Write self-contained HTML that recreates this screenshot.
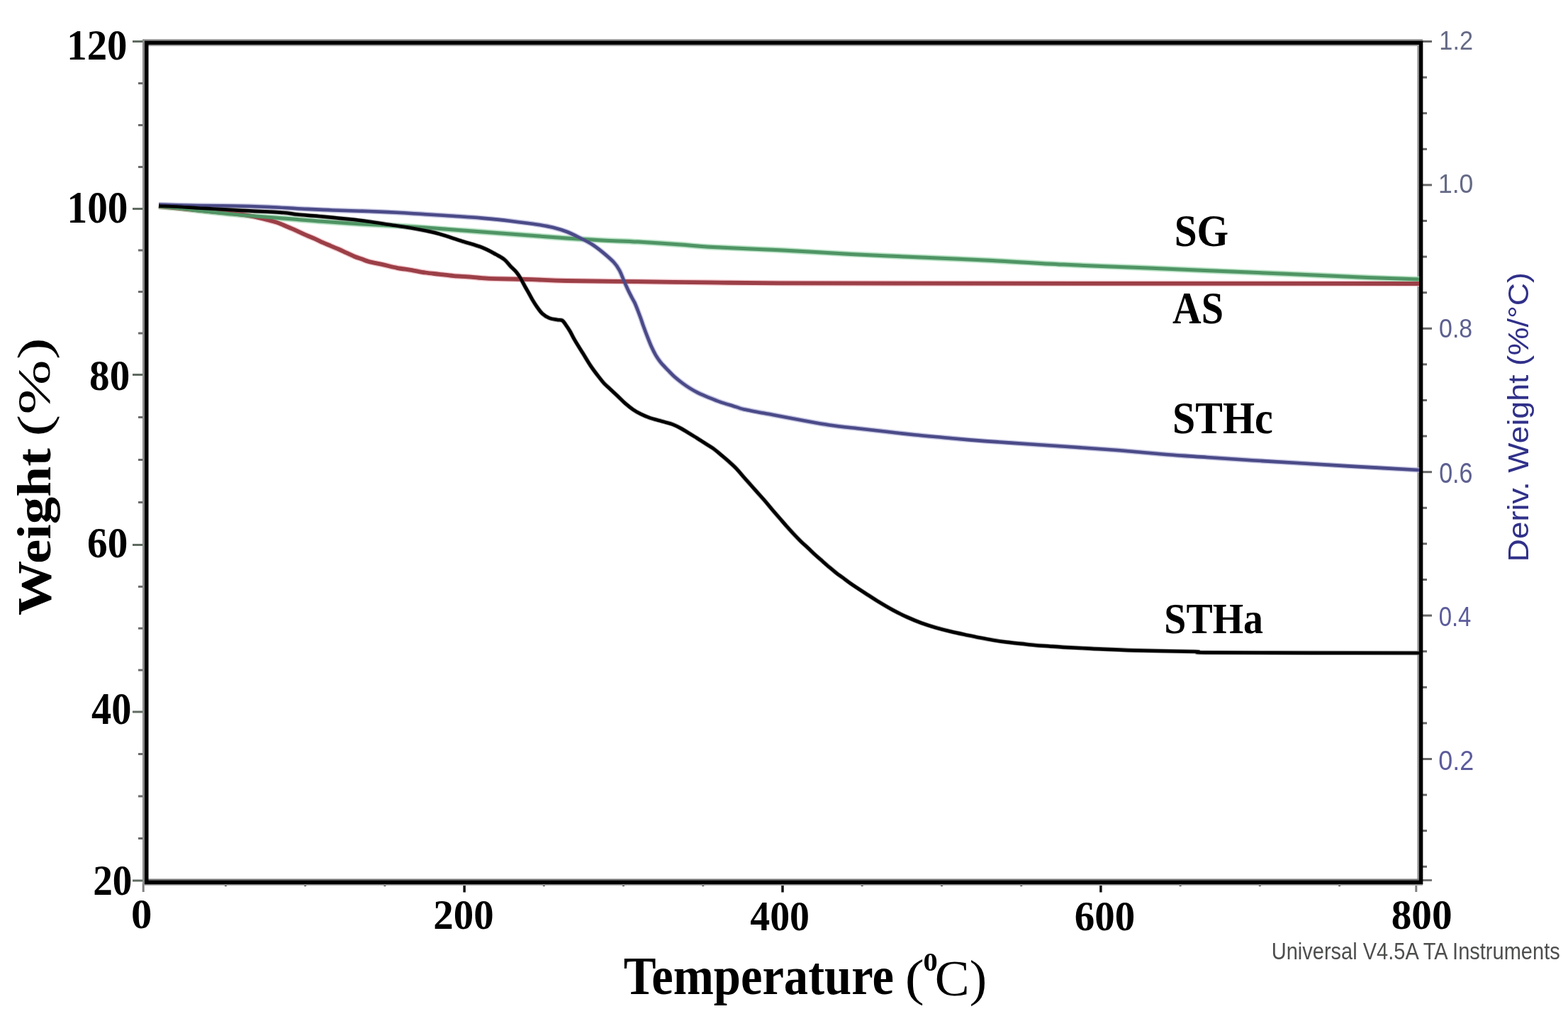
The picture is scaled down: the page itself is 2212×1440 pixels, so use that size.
<!DOCTYPE html><html><head><meta charset="utf-8"><title>TGA</title><style>html,body{margin:0;padding:0;background:#fff;overflow:hidden}svg{display:block}</style></head><body>
<svg width="2212" height="1440" viewBox="0 0 2212 1440">
<rect width="2212" height="1440" fill="#fff"/>
<g><line x1="187" y1="1242.0" x2="204" y2="1242.0" stroke="#5f6b60" stroke-width="3"/><line x1="195" y1="1182.5" x2="204" y2="1182.5" stroke="#6b6b6b" stroke-width="3"/><line x1="195" y1="1123.0" x2="204" y2="1123.0" stroke="#6b6b6b" stroke-width="3"/><line x1="195" y1="1063.5" x2="204" y2="1063.5" stroke="#6b6b6b" stroke-width="3"/><line x1="187" y1="1004.0" x2="204" y2="1004.0" stroke="#5f6b60" stroke-width="3"/><line x1="195" y1="945.1" x2="204" y2="945.1" stroke="#6b6b6b" stroke-width="3"/><line x1="195" y1="886.2" x2="204" y2="886.2" stroke="#6b6b6b" stroke-width="3"/><line x1="195" y1="827.4" x2="204" y2="827.4" stroke="#6b6b6b" stroke-width="3"/><line x1="187" y1="768.5" x2="204" y2="768.5" stroke="#5f6b60" stroke-width="3"/><line x1="195" y1="708.5" x2="204" y2="708.5" stroke="#6b6b6b" stroke-width="3"/><line x1="195" y1="648.5" x2="204" y2="648.5" stroke="#6b6b6b" stroke-width="3"/><line x1="195" y1="588.5" x2="204" y2="588.5" stroke="#6b6b6b" stroke-width="3"/><line x1="187" y1="528.5" x2="204" y2="528.5" stroke="#5f6b60" stroke-width="3"/><line x1="195" y1="470.0" x2="204" y2="470.0" stroke="#6b6b6b" stroke-width="3"/><line x1="195" y1="411.5" x2="204" y2="411.5" stroke="#6b6b6b" stroke-width="3"/><line x1="195" y1="353.0" x2="204" y2="353.0" stroke="#6b6b6b" stroke-width="3"/><line x1="187" y1="294.5" x2="204" y2="294.5" stroke="#5f6b60" stroke-width="3"/><line x1="195" y1="235.5" x2="204" y2="235.5" stroke="#6b6b6b" stroke-width="3"/><line x1="195" y1="176.5" x2="204" y2="176.5" stroke="#6b6b6b" stroke-width="3"/><line x1="195" y1="117.5" x2="204" y2="117.5" stroke="#6b6b6b" stroke-width="3"/><line x1="187" y1="58.5" x2="204" y2="58.5" stroke="#5f6b60" stroke-width="3"/><line x1="2007" y1="58.5" x2="2020" y2="58.5" stroke="#666" stroke-width="3"/><line x1="2007" y1="109.1" x2="2013" y2="109.1" stroke="#666" stroke-width="3"/><line x1="2007" y1="159.7" x2="2013" y2="159.7" stroke="#666" stroke-width="3"/><line x1="2007" y1="210.3" x2="2013" y2="210.3" stroke="#666" stroke-width="3"/><line x1="2007" y1="260.9" x2="2020" y2="260.9" stroke="#666" stroke-width="3"/><line x1="2007" y1="311.5" x2="2013" y2="311.5" stroke="#666" stroke-width="3"/><line x1="2007" y1="362.1" x2="2013" y2="362.1" stroke="#666" stroke-width="3"/><line x1="2007" y1="412.7" x2="2013" y2="412.7" stroke="#666" stroke-width="3"/><line x1="2007" y1="463.3" x2="2020" y2="463.3" stroke="#666" stroke-width="3"/><line x1="2007" y1="513.9" x2="2013" y2="513.9" stroke="#666" stroke-width="3"/><line x1="2007" y1="564.5" x2="2013" y2="564.5" stroke="#666" stroke-width="3"/><line x1="2007" y1="615.1" x2="2013" y2="615.1" stroke="#666" stroke-width="3"/><line x1="2007" y1="665.7" x2="2020" y2="665.7" stroke="#666" stroke-width="3"/><line x1="2007" y1="716.3" x2="2013" y2="716.3" stroke="#666" stroke-width="3"/><line x1="2007" y1="766.9" x2="2013" y2="766.9" stroke="#666" stroke-width="3"/><line x1="2007" y1="817.5" x2="2013" y2="817.5" stroke="#666" stroke-width="3"/><line x1="2007" y1="868.1" x2="2020" y2="868.1" stroke="#666" stroke-width="3"/><line x1="2007" y1="918.7" x2="2013" y2="918.7" stroke="#666" stroke-width="3"/><line x1="2007" y1="969.3" x2="2013" y2="969.3" stroke="#666" stroke-width="3"/><line x1="2007" y1="1019.9" x2="2013" y2="1019.9" stroke="#666" stroke-width="3"/><line x1="2007" y1="1070.5" x2="2020" y2="1070.5" stroke="#666" stroke-width="3"/><line x1="2007" y1="1121.1" x2="2013" y2="1121.1" stroke="#666" stroke-width="3"/><line x1="2007" y1="1171.7" x2="2013" y2="1171.7" stroke="#666" stroke-width="3"/><line x1="2007" y1="1222.3" x2="2013" y2="1222.3" stroke="#666" stroke-width="3"/><line x1="2007" y1="1241.5" x2="2020" y2="1241.5" stroke="#777" stroke-width="3"/><line x1="202.2" y1="1246" x2="202.2" y2="1258" stroke="#808080" stroke-width="3"/><line x1="318.4" y1="1246" x2="318.4" y2="1250" stroke="#333" stroke-width="3"/><line x1="430.6" y1="1246" x2="430.6" y2="1250" stroke="#333" stroke-width="3"/><line x1="542.9" y1="1246" x2="542.9" y2="1250" stroke="#333" stroke-width="3"/><line x1="655.1" y1="1246" x2="655.1" y2="1258.5" stroke="#111" stroke-width="3.5"/><line x1="767.3" y1="1246" x2="767.3" y2="1250" stroke="#333" stroke-width="3"/><line x1="879.5" y1="1246" x2="879.5" y2="1250" stroke="#333" stroke-width="3"/><line x1="991.8" y1="1246" x2="991.8" y2="1250" stroke="#333" stroke-width="3"/><line x1="1104.0" y1="1246" x2="1104.0" y2="1258.5" stroke="#111" stroke-width="3.5"/><line x1="1216.2" y1="1246" x2="1216.2" y2="1250" stroke="#333" stroke-width="3"/><line x1="1328.5" y1="1246" x2="1328.5" y2="1250" stroke="#333" stroke-width="3"/><line x1="1440.7" y1="1246" x2="1440.7" y2="1250" stroke="#333" stroke-width="3"/><line x1="1552.9" y1="1246" x2="1552.9" y2="1258.5" stroke="#111" stroke-width="3.5"/><line x1="1665.1" y1="1246" x2="1665.1" y2="1250" stroke="#333" stroke-width="3"/><line x1="1777.3" y1="1246" x2="1777.3" y2="1250" stroke="#333" stroke-width="3"/><line x1="1889.6" y1="1246" x2="1889.6" y2="1250" stroke="#333" stroke-width="3"/><line x1="1997.8" y1="1246" x2="1997.8" y2="1258" stroke="#808080" stroke-width="3"/></g>
<rect x="201" y="55.3" width="3" height="1192" fill="#8a8a8a"/>
<rect x="1999.3" y="57.6" width="2.7" height="1189" fill="#9a9a9a"/>
<rect x="204" y="55.3" width="1803" height="2.5" fill="#8f8f8f"/>
<rect x="204" y="1239.5" width="1798" height="2.6" fill="#777"/>
<rect x="204" y="1247" width="1803" height="2" fill="#b0b0b0"/>
<rect x="204" y="63" width="1798" height="2" fill="#a0a0a0"/>
<path d="M206.75,60.3 H2004.6 V1244.6 H206.75 Z" fill="none" stroke="#000" stroke-width="5.5"/>
<g fill="none" stroke-linejoin="round" stroke-linecap="butt">
<path d="M224.0,291.0 C230.0,291.6 247.3,293.2 260.0,294.5 C272.7,295.8 286.7,297.2 300.0,298.5 C313.3,299.8 330.0,301.3 340.0,302.5 C350.0,303.7 354.2,304.6 360.0,305.8 C365.8,307.0 370.0,308.2 375.0,309.5 C380.0,310.8 385.8,312.2 390.0,313.5 C394.2,314.8 396.5,316.1 400.0,317.5 C403.5,318.9 407.3,320.6 411.0,322.2 C414.7,323.8 418.3,325.5 422.0,327.2 C425.7,328.9 429.3,330.6 433.0,332.2 C436.7,333.8 440.6,335.2 444.4,336.9 C448.2,338.6 451.9,340.5 455.6,342.2 C459.3,343.9 463.0,345.3 466.7,346.9 C470.4,348.4 474.1,349.9 477.8,351.5 C481.5,353.1 485.2,355.0 488.9,356.7 C492.6,358.4 496.3,360.2 500.0,361.7 C503.7,363.2 507.7,364.4 511.0,365.6 C514.3,366.8 515.2,367.6 520.0,368.9 C524.8,370.2 533.3,371.7 540.0,373.2 C546.7,374.7 553.3,376.5 560.0,377.8 C566.7,379.1 573.3,379.8 580.0,380.9 C586.7,382.0 593.3,383.5 600.0,384.5 C606.7,385.5 613.3,386.0 620.0,386.8 C626.7,387.6 633.3,388.5 640.0,389.1 C646.7,389.7 653.3,389.9 660.0,390.4 C666.7,390.9 673.3,391.8 680.0,392.2 C686.7,392.6 688.3,392.8 700.0,393.1 C711.7,393.4 733.3,393.7 750.0,394.2 C766.7,394.7 775.0,395.5 800.0,396.0 C825.0,396.5 866.7,396.8 900.0,397.2 C933.3,397.6 966.7,398.0 1000.0,398.4 C1033.3,398.8 1050.0,399.1 1100.0,399.3 C1150.0,399.5 1149.7,399.6 1300.0,399.7 C1450.3,399.8 1885.0,399.9 2002.0,400.0" stroke="#f2c4ca" stroke-width="8.6" opacity="0.8"/>
<path d="M224.0,291.0 C230.0,291.6 250.7,293.5 260.0,294.5 C269.3,295.5 270.0,295.9 280.0,297.0 C290.0,298.1 306.7,299.9 320.0,301.2 C333.3,302.5 346.7,303.9 360.0,305.0 C373.3,306.1 390.0,307.2 400.0,308.0 C410.0,308.8 410.8,308.8 420.0,309.5 C429.2,310.2 439.8,311.2 455.0,312.3 C470.2,313.4 493.5,315.0 511.0,316.0 C528.5,317.0 545.2,317.6 560.0,318.5 C574.8,319.4 586.7,320.2 600.0,321.1 C613.3,322.0 626.7,323.1 640.0,324.1 C653.3,325.1 666.7,326.0 680.0,327.0 C693.3,328.0 706.7,329.0 720.0,330.0 C733.3,331.0 746.7,332.0 760.0,333.0 C773.3,334.0 785.0,335.0 800.0,336.0 C815.0,337.0 833.3,338.0 850.0,338.9 C866.7,339.8 881.7,340.1 900.0,341.1 C918.3,342.1 943.3,343.8 960.0,345.0 C976.7,346.2 976.7,347.0 1000.0,348.3 C1023.3,349.6 1066.7,351.1 1100.0,352.8 C1133.3,354.5 1166.7,356.7 1200.0,358.4 C1233.3,360.1 1266.7,361.5 1300.0,363.0 C1333.3,364.5 1366.7,365.8 1400.0,367.5 C1433.3,369.2 1463.3,371.4 1500.0,373.1 C1536.7,374.9 1586.7,376.6 1620.0,378.0 C1653.3,379.4 1666.7,380.1 1700.0,381.5 C1733.3,382.9 1791.7,385.3 1820.0,386.5 C1848.3,387.7 1851.7,388.0 1870.0,388.8 C1888.3,389.6 1908.0,390.6 1930.0,391.5 C1952.0,392.4 1990.0,393.6 2002.0,394.0" stroke="#a9dcb8" stroke-width="8.4" opacity="0.8"/>
<path d="M224.0,288.5 C233.3,288.8 262.3,289.7 280.0,290.0 C297.7,290.3 313.3,290.2 330.0,290.5 C346.7,290.8 365.0,291.4 380.0,292.0 C395.0,292.6 405.0,293.4 420.0,294.2 C435.0,294.9 453.3,295.9 470.0,296.5 C486.7,297.1 505.0,297.4 520.0,298.0 C535.0,298.6 546.7,299.1 560.0,299.8 C573.3,300.5 586.7,301.5 600.0,302.3 C613.3,303.1 626.7,303.8 640.0,304.7 C653.3,305.6 666.7,306.4 680.0,307.6 C693.3,308.8 706.7,310.1 720.0,311.7 C733.3,313.3 750.0,315.5 760.0,317.0 C770.0,318.5 773.3,319.1 780.0,320.8 C786.7,322.5 793.3,324.4 800.0,327.0 C806.7,329.6 814.2,333.6 820.0,336.5 C825.8,339.4 830.0,341.3 835.0,344.5 C840.0,347.7 844.8,351.4 850.0,355.6 C855.2,359.9 862.0,365.7 866.0,370.0 C870.0,374.3 871.7,377.2 874.0,381.5 C876.3,385.8 878.0,390.9 880.0,395.5 C882.0,400.1 884.1,405.0 886.0,409.0 C887.9,413.0 889.7,416.4 891.3,419.5 C892.9,422.6 894.1,424.2 895.5,427.3 C896.9,430.4 898.3,434.2 899.8,438.0 C901.3,441.8 903.0,446.4 904.3,450.0 C905.6,453.6 906.1,455.7 907.6,459.8 C909.1,463.9 911.3,469.9 913.2,474.7 C915.1,479.5 916.8,484.1 918.8,488.5 C920.8,492.9 922.7,496.9 925.0,500.8 C927.3,504.7 929.8,508.3 932.6,511.8 C935.4,515.3 938.9,518.6 942.0,521.8 C945.1,525.0 947.7,528.0 951.1,531.0 C954.5,534.0 958.5,537.2 962.2,540.0 C965.9,542.8 969.6,545.3 973.3,547.6 C977.0,549.9 980.7,552.0 984.4,553.9 C988.1,555.8 991.9,557.3 995.6,558.9 C999.3,560.5 1003.0,561.8 1006.7,563.3 C1010.4,564.8 1014.1,566.3 1017.8,567.6 C1021.5,568.9 1025.3,569.9 1029.0,571.0 C1032.7,572.1 1036.5,573.3 1040.0,574.4 C1043.5,575.5 1041.7,575.6 1050.0,577.4 C1058.3,579.2 1076.7,582.5 1090.0,585.0 C1103.3,587.5 1116.7,590.1 1130.0,592.5 C1143.3,594.9 1156.7,597.5 1170.0,599.5 C1183.3,601.5 1196.7,602.8 1210.0,604.3 C1223.3,605.8 1236.7,607.3 1250.0,608.8 C1263.3,610.3 1276.7,611.9 1290.0,613.3 C1303.3,614.7 1316.7,615.8 1330.0,617.0 C1343.3,618.2 1356.7,619.5 1370.0,620.6 C1383.3,621.7 1396.7,622.6 1410.0,623.5 C1423.3,624.4 1433.3,625.1 1450.0,626.2 C1466.7,627.3 1488.3,628.8 1510.0,630.3 C1531.7,631.8 1557.5,633.5 1580.0,635.3 C1602.5,637.1 1624.5,639.4 1645.0,641.0 C1665.5,642.6 1682.8,643.6 1703.0,645.0 C1723.2,646.4 1744.8,647.9 1766.0,649.2 C1787.2,650.5 1806.7,651.6 1830.0,653.0 C1853.3,654.4 1877.3,655.9 1906.0,657.6 C1934.7,659.3 1986.0,662.1 2002.0,663.0" stroke="#b9b9dc" stroke-width="7.4" opacity="0.8"/>
<path d="M224.0,290.5 C228.3,290.7 240.7,291.0 250.0,291.5 C259.3,292.0 271.7,293.0 280.0,293.5 C288.3,294.0 290.0,293.9 300.0,294.5 C310.0,295.1 330.0,296.2 340.0,296.8 C350.0,297.4 350.0,297.3 360.0,297.8 C370.0,298.3 390.0,299.2 400.0,300.0 C410.0,300.8 411.7,301.7 420.0,302.5 C428.3,303.3 438.3,303.9 450.0,305.0 C461.7,306.1 478.3,307.6 490.0,308.9 C501.7,310.1 510.0,311.1 520.0,312.5 C530.0,313.9 540.0,315.5 550.0,317.0 C560.0,318.5 571.7,320.1 580.0,321.5 C588.3,322.9 593.3,323.9 600.0,325.3 C606.7,326.7 611.7,327.6 620.0,330.0 C628.3,332.4 640.0,336.4 650.0,339.6 C660.0,342.8 671.7,345.8 680.0,349.0 C688.3,352.2 694.8,356.2 700.0,359.0 C705.2,361.8 708.2,363.3 711.5,366.0 C714.8,368.7 717.1,372.2 720.0,375.3 C722.9,378.4 726.5,381.3 729.0,384.4 C731.5,387.4 733.1,390.3 735.0,393.6 C736.9,396.9 738.8,400.7 740.6,404.0 C742.4,407.3 744.3,410.4 746.0,413.5 C747.7,416.6 749.1,419.4 751.0,422.6 C752.9,425.8 755.1,429.3 757.4,432.6 C759.7,435.9 762.1,439.6 765.0,442.3 C767.9,445.0 771.5,447.2 775.0,448.6 C778.5,450.1 783.0,450.4 786.0,451.0 C789.0,451.6 791.0,450.8 793.0,451.9 C795.0,453.0 796.2,455.3 798.0,457.8 C799.8,460.3 801.8,463.3 804.0,467.0 C806.2,470.7 808.0,474.9 811.0,480.0 C814.0,485.1 818.3,491.9 822.0,497.8 C825.7,503.7 829.3,510.1 833.0,515.6 C836.7,521.1 841.2,527.0 844.4,531.1 C847.6,535.2 849.4,537.7 852.0,540.5 C854.6,543.3 856.8,545.0 860.0,548.0 C863.2,551.0 867.3,554.8 871.0,558.3 C874.7,561.8 878.3,565.7 882.0,568.9 C885.7,572.1 889.3,575.0 893.0,577.6 C896.7,580.2 900.6,582.3 904.4,584.2 C908.2,586.1 911.9,587.6 915.6,588.9 C919.3,590.2 923.0,591.2 926.7,592.2 C930.4,593.2 934.1,594.1 937.8,595.2 C941.5,596.3 945.1,597.1 949.0,598.6 C952.9,600.1 957.2,602.3 961.0,604.4 C964.8,606.5 968.3,608.8 972.0,611.0 C975.7,613.2 979.3,615.5 983.0,617.8 C986.7,620.1 990.2,622.4 994.0,624.8 C997.8,627.2 1001.8,629.5 1005.6,632.2 C1009.4,634.9 1013.0,638.0 1016.7,641.1 C1020.4,644.2 1024.1,647.3 1027.8,650.6 C1031.5,653.9 1035.3,657.2 1039.0,661.1 C1042.7,665.0 1046.5,669.8 1050.0,673.8 C1053.5,677.8 1056.7,681.2 1060.0,685.0 C1063.3,688.8 1066.7,692.5 1070.0,696.3 C1073.3,700.0 1076.7,703.6 1080.0,707.5 C1083.3,711.4 1086.7,715.6 1090.0,719.5 C1093.3,723.4 1096.7,727.2 1100.0,731.0 C1103.3,734.8 1106.7,738.8 1110.0,742.5 C1113.3,746.2 1116.7,750.0 1120.0,753.5 C1123.3,757.0 1126.7,760.5 1130.0,763.8 C1133.3,767.0 1136.7,769.9 1140.0,773.0 C1143.3,776.1 1146.7,779.5 1150.0,782.5 C1153.3,785.5 1156.7,788.4 1160.0,791.3 C1163.3,794.2 1166.7,797.2 1170.0,800.0 C1173.3,802.8 1176.7,805.7 1180.0,808.3 C1183.3,810.9 1186.7,813.0 1190.0,815.5 C1193.3,818.0 1195.0,819.5 1200.0,823.0 C1205.0,826.5 1213.3,831.9 1220.0,836.2 C1226.7,840.5 1233.3,844.9 1240.0,849.0 C1246.7,853.1 1253.3,857.0 1260.0,860.6 C1266.7,864.2 1273.3,867.5 1280.0,870.5 C1286.7,873.5 1293.3,876.3 1300.0,878.8 C1306.7,881.2 1313.3,883.3 1320.0,885.2 C1326.7,887.1 1333.3,888.8 1340.0,890.4 C1346.7,892.0 1353.3,893.4 1360.0,894.8 C1366.7,896.2 1373.3,897.7 1380.0,899.0 C1386.7,900.3 1393.3,901.6 1400.0,902.7 C1406.7,903.8 1413.3,904.8 1420.0,905.6 C1426.7,906.5 1433.3,907.1 1440.0,907.8 C1446.7,908.5 1453.3,909.4 1460.0,910.0 C1466.7,910.6 1473.3,910.9 1480.0,911.4 C1486.7,911.9 1490.0,912.2 1500.0,912.8 C1510.0,913.4 1523.3,914.0 1540.0,914.8 C1556.7,915.5 1575.7,916.6 1600.0,917.3 C1624.3,918.0 1669.3,918.5 1686.0,919.0 C1702.7,919.5 1672.7,920.0 1700.0,920.3 C1727.3,920.6 1799.7,920.7 1850.0,920.8 C1900.3,920.9 1976.7,921.0 2002.0,921.0" stroke="#8c8c8c" stroke-width="6.4" opacity="0.8"/>
<path d="M224.0,291.0 C230.0,291.6 247.3,293.2 260.0,294.5 C272.7,295.8 286.7,297.2 300.0,298.5 C313.3,299.8 330.0,301.3 340.0,302.5 C350.0,303.7 354.2,304.6 360.0,305.8 C365.8,307.0 370.0,308.2 375.0,309.5 C380.0,310.8 385.8,312.2 390.0,313.5 C394.2,314.8 396.5,316.1 400.0,317.5 C403.5,318.9 407.3,320.6 411.0,322.2 C414.7,323.8 418.3,325.5 422.0,327.2 C425.7,328.9 429.3,330.6 433.0,332.2 C436.7,333.8 440.6,335.2 444.4,336.9 C448.2,338.6 451.9,340.5 455.6,342.2 C459.3,343.9 463.0,345.3 466.7,346.9 C470.4,348.4 474.1,349.9 477.8,351.5 C481.5,353.1 485.2,355.0 488.9,356.7 C492.6,358.4 496.3,360.2 500.0,361.7 C503.7,363.2 507.7,364.4 511.0,365.6 C514.3,366.8 515.2,367.6 520.0,368.9 C524.8,370.2 533.3,371.7 540.0,373.2 C546.7,374.7 553.3,376.5 560.0,377.8 C566.7,379.1 573.3,379.8 580.0,380.9 C586.7,382.0 593.3,383.5 600.0,384.5 C606.7,385.5 613.3,386.0 620.0,386.8 C626.7,387.6 633.3,388.5 640.0,389.1 C646.7,389.7 653.3,389.9 660.0,390.4 C666.7,390.9 673.3,391.8 680.0,392.2 C686.7,392.6 688.3,392.8 700.0,393.1 C711.7,393.4 733.3,393.7 750.0,394.2 C766.7,394.7 775.0,395.5 800.0,396.0 C825.0,396.5 866.7,396.8 900.0,397.2 C933.3,397.6 966.7,398.0 1000.0,398.4 C1033.3,398.8 1050.0,399.1 1100.0,399.3 C1150.0,399.5 1149.7,399.6 1300.0,399.7 C1450.3,399.8 1885.0,399.9 2002.0,400.0" stroke="#9c3f47" stroke-width="5.8"/>
<path d="M224.0,291.0 C230.0,291.6 250.7,293.5 260.0,294.5 C269.3,295.5 270.0,295.9 280.0,297.0 C290.0,298.1 306.7,299.9 320.0,301.2 C333.3,302.5 346.7,303.9 360.0,305.0 C373.3,306.1 390.0,307.2 400.0,308.0 C410.0,308.8 410.8,308.8 420.0,309.5 C429.2,310.2 439.8,311.2 455.0,312.3 C470.2,313.4 493.5,315.0 511.0,316.0 C528.5,317.0 545.2,317.6 560.0,318.5 C574.8,319.4 586.7,320.2 600.0,321.1 C613.3,322.0 626.7,323.1 640.0,324.1 C653.3,325.1 666.7,326.0 680.0,327.0 C693.3,328.0 706.7,329.0 720.0,330.0 C733.3,331.0 746.7,332.0 760.0,333.0 C773.3,334.0 785.0,335.0 800.0,336.0 C815.0,337.0 833.3,338.0 850.0,338.9 C866.7,339.8 881.7,340.1 900.0,341.1 C918.3,342.1 943.3,343.8 960.0,345.0 C976.7,346.2 976.7,347.0 1000.0,348.3 C1023.3,349.6 1066.7,351.1 1100.0,352.8 C1133.3,354.5 1166.7,356.7 1200.0,358.4 C1233.3,360.1 1266.7,361.5 1300.0,363.0 C1333.3,364.5 1366.7,365.8 1400.0,367.5 C1433.3,369.2 1463.3,371.4 1500.0,373.1 C1536.7,374.9 1586.7,376.6 1620.0,378.0 C1653.3,379.4 1666.7,380.1 1700.0,381.5 C1733.3,382.9 1791.7,385.3 1820.0,386.5 C1848.3,387.7 1851.7,388.0 1870.0,388.8 C1888.3,389.6 1908.0,390.6 1930.0,391.5 C1952.0,392.4 1990.0,393.6 2002.0,394.0" stroke="#4f9464" stroke-width="5.0"/>
<path d="M224.0,288.5 C233.3,288.8 262.3,289.7 280.0,290.0 C297.7,290.3 313.3,290.2 330.0,290.5 C346.7,290.8 365.0,291.4 380.0,292.0 C395.0,292.6 405.0,293.4 420.0,294.2 C435.0,294.9 453.3,295.9 470.0,296.5 C486.7,297.1 505.0,297.4 520.0,298.0 C535.0,298.6 546.7,299.1 560.0,299.8 C573.3,300.5 586.7,301.5 600.0,302.3 C613.3,303.1 626.7,303.8 640.0,304.7 C653.3,305.6 666.7,306.4 680.0,307.6 C693.3,308.8 706.7,310.1 720.0,311.7 C733.3,313.3 750.0,315.5 760.0,317.0 C770.0,318.5 773.3,319.1 780.0,320.8 C786.7,322.5 793.3,324.4 800.0,327.0 C806.7,329.6 814.2,333.6 820.0,336.5 C825.8,339.4 830.0,341.3 835.0,344.5 C840.0,347.7 844.8,351.4 850.0,355.6 C855.2,359.9 862.0,365.7 866.0,370.0 C870.0,374.3 871.7,377.2 874.0,381.5 C876.3,385.8 878.0,390.9 880.0,395.5 C882.0,400.1 884.1,405.0 886.0,409.0 C887.9,413.0 889.7,416.4 891.3,419.5 C892.9,422.6 894.1,424.2 895.5,427.3 C896.9,430.4 898.3,434.2 899.8,438.0 C901.3,441.8 903.0,446.4 904.3,450.0 C905.6,453.6 906.1,455.7 907.6,459.8 C909.1,463.9 911.3,469.9 913.2,474.7 C915.1,479.5 916.8,484.1 918.8,488.5 C920.8,492.9 922.7,496.9 925.0,500.8 C927.3,504.7 929.8,508.3 932.6,511.8 C935.4,515.3 938.9,518.6 942.0,521.8 C945.1,525.0 947.7,528.0 951.1,531.0 C954.5,534.0 958.5,537.2 962.2,540.0 C965.9,542.8 969.6,545.3 973.3,547.6 C977.0,549.9 980.7,552.0 984.4,553.9 C988.1,555.8 991.9,557.3 995.6,558.9 C999.3,560.5 1003.0,561.8 1006.7,563.3 C1010.4,564.8 1014.1,566.3 1017.8,567.6 C1021.5,568.9 1025.3,569.9 1029.0,571.0 C1032.7,572.1 1036.5,573.3 1040.0,574.4 C1043.5,575.5 1041.7,575.6 1050.0,577.4 C1058.3,579.2 1076.7,582.5 1090.0,585.0 C1103.3,587.5 1116.7,590.1 1130.0,592.5 C1143.3,594.9 1156.7,597.5 1170.0,599.5 C1183.3,601.5 1196.7,602.8 1210.0,604.3 C1223.3,605.8 1236.7,607.3 1250.0,608.8 C1263.3,610.3 1276.7,611.9 1290.0,613.3 C1303.3,614.7 1316.7,615.8 1330.0,617.0 C1343.3,618.2 1356.7,619.5 1370.0,620.6 C1383.3,621.7 1396.7,622.6 1410.0,623.5 C1423.3,624.4 1433.3,625.1 1450.0,626.2 C1466.7,627.3 1488.3,628.8 1510.0,630.3 C1531.7,631.8 1557.5,633.5 1580.0,635.3 C1602.5,637.1 1624.5,639.4 1645.0,641.0 C1665.5,642.6 1682.8,643.6 1703.0,645.0 C1723.2,646.4 1744.8,647.9 1766.0,649.2 C1787.2,650.5 1806.7,651.6 1830.0,653.0 C1853.3,654.4 1877.3,655.9 1906.0,657.6 C1934.7,659.3 1986.0,662.1 2002.0,663.0" stroke="#4b4a88" stroke-width="4.6"/>
<path d="M224.0,290.5 C228.3,290.7 240.7,291.0 250.0,291.5 C259.3,292.0 271.7,293.0 280.0,293.5 C288.3,294.0 290.0,293.9 300.0,294.5 C310.0,295.1 330.0,296.2 340.0,296.8 C350.0,297.4 350.0,297.3 360.0,297.8 C370.0,298.3 390.0,299.2 400.0,300.0 C410.0,300.8 411.7,301.7 420.0,302.5 C428.3,303.3 438.3,303.9 450.0,305.0 C461.7,306.1 478.3,307.6 490.0,308.9 C501.7,310.1 510.0,311.1 520.0,312.5 C530.0,313.9 540.0,315.5 550.0,317.0 C560.0,318.5 571.7,320.1 580.0,321.5 C588.3,322.9 593.3,323.9 600.0,325.3 C606.7,326.7 611.7,327.6 620.0,330.0 C628.3,332.4 640.0,336.4 650.0,339.6 C660.0,342.8 671.7,345.8 680.0,349.0 C688.3,352.2 694.8,356.2 700.0,359.0 C705.2,361.8 708.2,363.3 711.5,366.0 C714.8,368.7 717.1,372.2 720.0,375.3 C722.9,378.4 726.5,381.3 729.0,384.4 C731.5,387.4 733.1,390.3 735.0,393.6 C736.9,396.9 738.8,400.7 740.6,404.0 C742.4,407.3 744.3,410.4 746.0,413.5 C747.7,416.6 749.1,419.4 751.0,422.6 C752.9,425.8 755.1,429.3 757.4,432.6 C759.7,435.9 762.1,439.6 765.0,442.3 C767.9,445.0 771.5,447.2 775.0,448.6 C778.5,450.1 783.0,450.4 786.0,451.0 C789.0,451.6 791.0,450.8 793.0,451.9 C795.0,453.0 796.2,455.3 798.0,457.8 C799.8,460.3 801.8,463.3 804.0,467.0 C806.2,470.7 808.0,474.9 811.0,480.0 C814.0,485.1 818.3,491.9 822.0,497.8 C825.7,503.7 829.3,510.1 833.0,515.6 C836.7,521.1 841.2,527.0 844.4,531.1 C847.6,535.2 849.4,537.7 852.0,540.5 C854.6,543.3 856.8,545.0 860.0,548.0 C863.2,551.0 867.3,554.8 871.0,558.3 C874.7,561.8 878.3,565.7 882.0,568.9 C885.7,572.1 889.3,575.0 893.0,577.6 C896.7,580.2 900.6,582.3 904.4,584.2 C908.2,586.1 911.9,587.6 915.6,588.9 C919.3,590.2 923.0,591.2 926.7,592.2 C930.4,593.2 934.1,594.1 937.8,595.2 C941.5,596.3 945.1,597.1 949.0,598.6 C952.9,600.1 957.2,602.3 961.0,604.4 C964.8,606.5 968.3,608.8 972.0,611.0 C975.7,613.2 979.3,615.5 983.0,617.8 C986.7,620.1 990.2,622.4 994.0,624.8 C997.8,627.2 1001.8,629.5 1005.6,632.2 C1009.4,634.9 1013.0,638.0 1016.7,641.1 C1020.4,644.2 1024.1,647.3 1027.8,650.6 C1031.5,653.9 1035.3,657.2 1039.0,661.1 C1042.7,665.0 1046.5,669.8 1050.0,673.8 C1053.5,677.8 1056.7,681.2 1060.0,685.0 C1063.3,688.8 1066.7,692.5 1070.0,696.3 C1073.3,700.0 1076.7,703.6 1080.0,707.5 C1083.3,711.4 1086.7,715.6 1090.0,719.5 C1093.3,723.4 1096.7,727.2 1100.0,731.0 C1103.3,734.8 1106.7,738.8 1110.0,742.5 C1113.3,746.2 1116.7,750.0 1120.0,753.5 C1123.3,757.0 1126.7,760.5 1130.0,763.8 C1133.3,767.0 1136.7,769.9 1140.0,773.0 C1143.3,776.1 1146.7,779.5 1150.0,782.5 C1153.3,785.5 1156.7,788.4 1160.0,791.3 C1163.3,794.2 1166.7,797.2 1170.0,800.0 C1173.3,802.8 1176.7,805.7 1180.0,808.3 C1183.3,810.9 1186.7,813.0 1190.0,815.5 C1193.3,818.0 1195.0,819.5 1200.0,823.0 C1205.0,826.5 1213.3,831.9 1220.0,836.2 C1226.7,840.5 1233.3,844.9 1240.0,849.0 C1246.7,853.1 1253.3,857.0 1260.0,860.6 C1266.7,864.2 1273.3,867.5 1280.0,870.5 C1286.7,873.5 1293.3,876.3 1300.0,878.8 C1306.7,881.2 1313.3,883.3 1320.0,885.2 C1326.7,887.1 1333.3,888.8 1340.0,890.4 C1346.7,892.0 1353.3,893.4 1360.0,894.8 C1366.7,896.2 1373.3,897.7 1380.0,899.0 C1386.7,900.3 1393.3,901.6 1400.0,902.7 C1406.7,903.8 1413.3,904.8 1420.0,905.6 C1426.7,906.5 1433.3,907.1 1440.0,907.8 C1446.7,908.5 1453.3,909.4 1460.0,910.0 C1466.7,910.6 1473.3,910.9 1480.0,911.4 C1486.7,911.9 1490.0,912.2 1500.0,912.8 C1510.0,913.4 1523.3,914.0 1540.0,914.8 C1556.7,915.5 1575.7,916.6 1600.0,917.3 C1624.3,918.0 1669.3,918.5 1686.0,919.0 C1702.7,919.5 1672.7,920.0 1700.0,920.3 C1727.3,920.6 1799.7,920.7 1850.0,920.8 C1900.3,920.9 1976.7,921.0 2002.0,921.0" stroke="#000" stroke-width="4.7"/>
</g>
<text id="y120" transform="translate(94.30 83.79) scale(0.9336 1)" font-family="'Liberation Serif', 'Times New Roman', serif" font-weight="bold" font-size="60.88" fill="#000">120</text>
<text id="y100" transform="translate(94.51 313.79) scale(0.8934 1)" font-family="'Liberation Serif', 'Times New Roman', serif" font-weight="bold" font-size="64.13" fill="#000">100</text>
<text id="y80" transform="translate(126.07 549.99) scale(0.9392 1)" font-family="'Liberation Serif', 'Times New Roman', serif" font-weight="bold" font-size="60.88" fill="#000">80</text>
<text id="y60" transform="translate(123.11 785.59) scale(0.9395 1)" font-family="'Liberation Serif', 'Times New Roman', serif" font-weight="bold" font-size="60.88" fill="#000">60</text>
<text id="y40" transform="translate(129.11 1021.00) scale(0.8917 1)" font-family="'Liberation Serif', 'Times New Roman', serif" font-weight="bold" font-size="63.24" fill="#000">40</text>
<text id="y20" transform="translate(131.18 1262.18) scale(0.8910 1)" font-family="'Liberation Serif', 'Times New Roman', serif" font-weight="bold" font-size="62.08" fill="#000">20</text>
<text id="x0" transform="translate(185.00 1309.00) scale(1.0000 1)" font-family="'Liberation Serif', 'Times New Roman', serif" font-weight="bold" font-size="58.82" fill="#000">0</text>
<text id="x200" transform="translate(611.31 1309.60) scale(0.9476 1)" font-family="'Liberation Serif', 'Times New Roman', serif" font-weight="bold" font-size="60.01" fill="#000">200</text>
<text id="x400" transform="translate(1058.21 1312.40) scale(0.9317 1)" font-family="'Liberation Serif', 'Times New Roman', serif" font-weight="bold" font-size="60.01" fill="#000">400</text>
<text id="x600" transform="translate(1515.70 1312.40) scale(0.9498 1)" font-family="'Liberation Serif', 'Times New Roman', serif" font-weight="bold" font-size="60.01" fill="#000">600</text>
<text id="x800" transform="translate(1962.67 1309.98) scale(0.9547 1)" font-family="'Liberation Serif', 'Times New Roman', serif" font-weight="bold" font-size="60.01" fill="#000">800</text>
<text id="r12" transform="translate(2030.31 70.00) scale(0.9325 1)" font-family="'Liberation Sans', Arial, sans-serif" font-weight="normal" font-size="36.82" fill="#656a86">1.2</text>
<text id="r10" transform="translate(2028.96 272.00) scale(0.9665 1)" font-family="'Liberation Sans', Arial, sans-serif" font-weight="normal" font-size="36.82" fill="#656a86">1.0</text>
<text id="r08" transform="translate(2030.12 475.59) scale(0.9058 1)" font-family="'Liberation Sans', Arial, sans-serif" font-weight="normal" font-size="37.39" fill="#5d6090">0.8</text>
<text id="r06" transform="translate(2030.17 680.60) scale(0.8514 1)" font-family="'Liberation Sans', Arial, sans-serif" font-weight="normal" font-size="40.01" fill="#5d6090">0.6</text>
<text id="r04" transform="translate(2029.63 883.20) scale(0.8409 1)" font-family="'Liberation Sans', Arial, sans-serif" font-weight="normal" font-size="39.12" fill="#5c5c9c">0.4</text>
<text id="r02" transform="translate(2029.36 1085.80) scale(0.9038 1)" font-family="'Liberation Sans', Arial, sans-serif" font-weight="normal" font-size="39.71" fill="#5c5c9c">0.2</text>
<text id="sg" transform="translate(1656.71 347.00) scale(0.9064 1)" font-family="'Liberation Serif', 'Times New Roman', serif" font-weight="bold" font-size="63.24" fill="#000">SG</text>
<text id="as" transform="translate(1654.00 455.58) scale(0.8977 1)" font-family="'Liberation Serif', 'Times New Roman', serif" font-weight="bold" font-size="62.70" fill="#000">AS</text>
<text id="sthc" transform="translate(1654.10 610.79) scale(0.9036 1)" font-family="'Liberation Serif', 'Times New Roman', serif" font-weight="bold" font-size="64.13" fill="#000">STHc</text>
<text id="stha" transform="translate(1642.37 893.37) scale(0.9165 1)" font-family="'Liberation Serif', 'Times New Roman', serif" font-weight="bold" font-size="60.91" fill="#000">STHa</text>
<text id="univ" transform="translate(1793.69 1353.00) scale(0.8928 1)" font-family="'Liberation Sans', Arial, sans-serif" font-weight="normal" font-size="32.52" fill="#4d4f4d">Universal V4.5A TA Instruments</text>
<text id="temp" transform="translate(879.73 1402.33) scale(0.9026 1)" font-family="'Liberation Serif', 'Times New Roman', serif" font-weight="bold" font-size="76.03" fill="#000">Temperature</text>
<text id="tpar" transform="translate(1276.72 1402.69) scale(1.1326 1)" font-family="'Liberation Serif', 'Times New Roman', serif" font-weight="normal" font-size="71.44" fill="#000">(</text>
<text id="tsup" transform="translate(1302.60 1369.00) scale(1.1089 1)" font-family="'Liberation Serif', 'Times New Roman', serif" font-weight="bold" font-size="36.49" fill="#000">0</text>
<text id="tc" transform="translate(1318.83 1403.75) scale(1.0127 1)" font-family="'Liberation Serif', 'Times New Roman', serif" font-weight="normal" font-size="72.43" fill="#000">C)</text>
<text id="wt" transform="translate(70.82 867.99) rotate(-90) scale(1.1265 1)" font-family="'Liberation Serif', 'Times New Roman', serif" font-weight="bold" font-size="68.53" fill="#000">Weight</text>
<text id="wpct" transform="translate(70.37 615.79) rotate(-90) scale(1.4033 1)" font-family="'Liberation Serif', 'Times New Roman', serif" font-weight="normal" font-size="66.31" fill="#000">(%)</text>
<text id="deriv" transform="translate(2155.94 792.60) rotate(-90) scale(1.1030 1)" font-family="'Liberation Sans', Arial, sans-serif" font-weight="normal" font-size="40.54" fill="#30308a">Deriv. Weight (%/°C)</text>
</svg></body></html>
